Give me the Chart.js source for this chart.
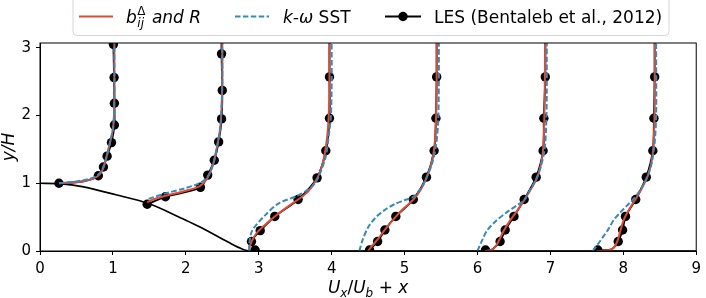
<!DOCTYPE html>
<html>
<head>
<meta charset="utf-8">
<script src="https://cdn.jsdelivr.net/npm/chart.js@4.4.0/dist/chart.umd.min.js"></script>
<style>
  html, body { margin: 0; padding: 0; background: #ffffff; }
  #wrap { width: 706px; height: 298px; position: relative; }
</style>
</head>
<body>
<div id="wrap"><canvas id="c" width="706" height="298"></canvas></div>
<script>
// ---------- data (plotted coordinates: U_x/U_b + x, y/H) ----------
const xTicks = [0, 1, 2, 3, 4, 5, 6, 7, 8, 9];
const yTicks = [0, 1, 2, 3];

// hill geometry (bottom wall)
const hillX = [0, 0.26, 0.58, 1.04, 1.49, 1.95, 2.18, 2.40, 2.60, 2.72, 2.87, 9];
const hillY = [1, 0.995, 0.95, 0.83, 0.70, 0.48, 0.36, 0.236, 0.12, 0.054, 0, 0];

// LES (Bentaleb et al., 2012) - marker points
const les1X = [0.26, 0.80, 0.87, 0.92, 0.98, 1.02, 1.02, 1.016, 1.007];
const les1Y = [1.00, 1.11, 1.24, 1.40, 1.60, 1.86, 2.18, 2.56, 3.05];
const les2X = [1.47, 1.72, 2.20, 2.30, 2.39, 2.45, 2.49, 2.50, 2.49];
const les2Y = [0.69, 0.80, 0.94, 1.12, 1.34, 1.61, 1.95, 2.37, 2.91];
const les3X = [2.95, 2.90, 3.02, 3.22, 3.54, 3.80, 3.92, 3.97, 3.97];
const les3Y = [0.015, 0.14, 0.30, 0.51, 0.76, 1.08, 1.48, 1.96, 2.57];
const les4X = [4.52, 4.63, 4.73, 4.88, 5.12, 5.30, 5.405, 5.43, 5.44];
const les4Y = [0.015, 0.14, 0.31, 0.51, 0.76, 1.09, 1.48, 1.96, 2.57];
const les5X = [6.11, 6.31, 6.38, 6.50, 6.64, 6.805, 6.90, 6.91, 6.93];
const les5Y = [0.015, 0.14, 0.31, 0.51, 0.76, 1.09, 1.48, 1.96, 2.57];
const les6X = [7.65, 7.93, 7.99, 8.03, 8.17, 8.315, 8.405, 8.42, 8.43];
const les6Y = [0.015, 0.14, 0.31, 0.51, 0.76, 1.09, 1.48, 1.96, 2.57];

// LES profile line (full profile, markers shown at the points above)
const lesLine1X = [0.26, 0.45, 0.60, 0.72, 0.80, 0.87, 0.92, 0.98, 1.02, 1.02, 1.016, 1.007, 1.007];
const lesLine1Y = [1.00, 1.01, 1.03, 1.065, 1.11, 1.24, 1.40, 1.60, 1.86, 2.18, 2.56, 3.05, 3.07];
const lesLine2X = [1.47, 1.72, 2.20, 2.30, 2.39, 2.45, 2.49, 2.50, 2.49, 2.49];
const lesLine2Y = [0.69, 0.80, 0.94, 1.12, 1.34, 1.61, 1.95, 2.37, 2.91, 3.07];
const lesLine3X = [2.95, 2.90, 3.02, 3.22, 3.54, 3.80, 3.92, 3.97, 3.97, 3.97];
const lesLine3Y = [0.015, 0.14, 0.30, 0.51, 0.76, 1.08, 1.48, 1.96, 2.57, 3.07];
const lesLine4X = [4.52, 4.63, 4.73, 4.88, 5.12, 5.30, 5.405, 5.43, 5.44, 5.44];
const lesLine4Y = [0.015, 0.14, 0.31, 0.51, 0.76, 1.09, 1.48, 1.96, 2.57, 3.07];
const lesLine5X = [6.11, 6.20, 6.25, 6.31, 6.38, 6.50, 6.64, 6.805, 6.90, 6.91, 6.93, 6.93];
const lesLine5Y = [0.015, 0.02, 0.07, 0.14, 0.31, 0.51, 0.76, 1.09, 1.48, 1.96, 2.57, 3.07];
const lesLine6X = [7.65, 7.80, 7.87, 7.93, 7.99, 8.03, 8.17, 8.315, 8.405, 8.42, 8.43, 8.43];
const lesLine6Y = [0.015, 0.015, 0.05, 0.14, 0.31, 0.51, 0.76, 1.09, 1.48, 1.96, 2.57, 3.07];

// b_ij^Δ and R
const red1X = [0.26, 0.45, 0.60, 0.72, 0.80, 0.86, 0.91, 0.96, 1.00, 1.015, 1.02, 1.02, 1.02];
const red1Y = [1.00, 1.01, 1.03, 1.065, 1.11, 1.20, 1.38, 1.60, 1.80, 2.00, 2.30, 2.60, 3.07];
const red2X = [1.47, 1.55, 1.72, 2.00, 2.185, 2.28, 2.33, 2.38, 2.43, 2.47, 2.49, 2.50, 2.50];
const red2Y = [0.72, 0.76, 0.815, 0.89, 0.955, 1.05, 1.15, 1.30, 1.55, 1.80, 2.10, 2.50, 3.07];
const red3X = [2.87, 2.88, 2.93, 3.00, 3.10, 3.22, 3.38, 3.54, 3.68, 3.79, 3.85, 3.90, 3.94, 3.96, 3.97, 3.97];
const red3Y = [0.00, 0.08, 0.20, 0.30, 0.40, 0.51, 0.64, 0.76, 0.88, 1.05, 1.20, 1.40, 1.70, 2.00, 2.50, 3.07];
const red4X = [4.50, 4.55, 4.63, 4.72, 4.85, 4.98, 5.12, 5.22, 5.30, 5.37, 5.41, 5.43, 5.44, 5.44];
const red4Y = [0.00, 0.07, 0.17, 0.30, 0.47, 0.62, 0.76, 0.90, 1.08, 1.30, 1.55, 1.90, 2.50, 3.07];
const red5X = [6.10, 6.20, 6.25, 6.30, 6.36, 6.46, 6.58, 6.68, 6.77, 6.84, 6.89, 6.91, 6.92, 6.93];
const red5Y = [0.00, 0.02, 0.07, 0.17, 0.30, 0.47, 0.65, 0.82, 0.98, 1.15, 1.40, 1.70, 2.20, 3.07];
const red6X = [7.63, 7.80, 7.87, 7.92, 7.96, 8.01, 8.10, 8.20, 8.28, 8.35, 8.40, 8.42, 8.43, 8.43];
const red6Y = [0.00, 0.01, 0.05, 0.15, 0.30, 0.47, 0.65, 0.82, 0.98, 1.15, 1.40, 1.70, 2.20, 3.07];

// k-ω SST
const blue1X = [0.26, 0.45, 0.60, 0.72, 0.80, 0.86, 0.91, 0.96, 1.00, 1.015, 1.02, 1.02];
const blue1Y = [1.00, 1.02, 1.045, 1.08, 1.13, 1.22, 1.38, 1.60, 1.80, 2.00, 2.30, 3.07];
const blue2X = [1.49, 1.72, 2.00, 2.185, 2.28, 2.33, 2.38, 2.43, 2.47, 2.49, 2.50, 2.50];
const blue2Y = [0.77, 0.85, 0.93, 1.00, 1.07, 1.16, 1.30, 1.55, 1.80, 2.10, 2.50, 3.07];
const blue3X = [2.87, 2.87, 2.91, 3.09, 3.27, 3.54, 3.72, 3.80, 3.86, 3.92, 3.96, 3.99, 4.00, 4.00];
const blue3Y = [0.00, 0.10, 0.30, 0.53, 0.70, 0.82, 0.94, 1.05, 1.20, 1.40, 1.70, 2.00, 2.50, 3.07];
const blue4X = [4.38, 4.42, 4.50, 4.60, 4.72, 4.86, 5.00, 5.12, 5.22, 5.30, 5.38, 5.43, 5.46, 5.47, 5.47];
const blue4Y = [0.00, 0.15, 0.35, 0.49, 0.60, 0.69, 0.75, 0.80, 0.92, 1.08, 1.30, 1.55, 1.90, 2.50, 3.07];
const blue5X = [6.00, 6.06, 6.13, 6.25, 6.40, 6.55, 6.64, 6.72, 6.80, 6.87, 6.92, 6.94, 6.95, 6.95];
const blue5Y = [0.00, 0.15, 0.30, 0.44, 0.57, 0.68, 0.75, 0.90, 1.05, 1.25, 1.50, 1.80, 2.30, 3.07];
const blue6X = [7.58, 7.65, 7.73, 7.80, 7.87, 7.96, 8.05, 8.15, 8.25, 8.33, 8.39, 8.43, 8.45, 8.45];
const blue6Y = [0.00, 0.10, 0.22, 0.33, 0.46, 0.57, 0.67, 0.78, 0.93, 1.10, 1.30, 1.60, 2.00, 3.07];

// ---------- build datasets ----------
const RED = '#E24A33', BLUE = '#348ABD', BLACK = '#000000';
const pts = (xs, ys) => xs.map((x, i) => ({ x: x, y: ys[i] }));

const datasets = [];
datasets.push({ data: pts(hillX, hillY), borderColor: BLACK, borderWidth: 1.7, pointRadius: 0, tension: 0.3, clip: false, order: 6 });
[[lesLine1X, lesLine1Y], [lesLine2X, lesLine2Y], [lesLine3X, lesLine3Y], [lesLine4X, lesLine4Y], [lesLine5X, lesLine5Y], [lesLine6X, lesLine6Y]].forEach(([xs, ys]) => {
  datasets.push({ data: pts(xs, ys), borderColor: BLACK, borderWidth: 1.9, pointRadius: 0, tension: 0.3, order: 5 });
});
[[les1X, les1Y], [les2X, les2Y], [les3X, les3Y], [les4X, les4Y], [les5X, les5Y], [les6X, les6Y]].forEach(([xs, ys]) => {
  datasets.push({ data: pts(xs, ys), showLine: false, borderColor: BLACK, backgroundColor: BLACK,
    pointRadius: 4.7, pointBorderWidth: 0, pointBackgroundColor: BLACK, order: 4 });
});
[[red1X, red1Y], [red2X, red2Y], [red3X, red3Y], [red4X, red4Y], [red5X, red5Y], [red6X, red6Y]].forEach(([xs, ys]) => {
  datasets.push({ data: pts(xs, ys), borderColor: RED, borderWidth: 2, pointRadius: 0, tension: 0.3, order: 3 });
});
[[blue1X, blue1Y], [blue2X, blue2Y], [blue3X, blue3Y], [blue4X, blue4Y], [blue5X, blue5Y], [blue6X, blue6Y]].forEach(([xs, ys]) => {
  datasets.push({ data: pts(xs, ys), borderColor: BLUE, borderWidth: 2, borderDash: [5.5, 2.4], pointRadius: 0, tension: 0.3, order: 2 });
});

const FONT = 'DejaVu Sans';

// ---------- plugin: frame, legend, axis titles ----------
const decor = {
  id: 'decor',
  afterDraw(chart) {
    const ctx = chart.ctx;
    const a = chart.chartArea;
    ctx.save();
    // frame
    ctx.strokeStyle = '#000';
    ctx.lineWidth = 1;
    ctx.strokeRect(a.left, a.top, a.right - a.left, a.bottom - a.top);

    // legend box
    const bx = 73, by = -8, bw = 596, bh = 43.5, r = 4;
    ctx.beginPath();
    ctx.moveTo(bx + r, by);
    ctx.lineTo(bx + bw - r, by);
    ctx.quadraticCurveTo(bx + bw, by, bx + bw, by + r);
    ctx.lineTo(bx + bw, by + bh - r);
    ctx.quadraticCurveTo(bx + bw, by + bh, bx + bw - r, by + bh);
    ctx.lineTo(bx + r, by + bh);
    ctx.quadraticCurveTo(bx, by + bh, bx, by + bh - r);
    ctx.lineTo(bx, by + r);
    ctx.quadraticCurveTo(bx, by, bx + r, by);
    ctx.closePath();
    ctx.fillStyle = 'rgba(255,255,255,0.8)';
    ctx.fill();
    ctx.strokeStyle = '#d6d6d6';
    ctx.lineWidth = 1;
    ctx.stroke();

    const ly = 16.5, base = 22.5;
    // red sample
    ctx.strokeStyle = RED; ctx.lineWidth = 2; ctx.setLineDash([]);
    ctx.beginPath(); ctx.moveTo(79, ly); ctx.lineTo(113, ly); ctx.stroke();
    // blue sample
    ctx.strokeStyle = BLUE; ctx.setLineDash([5.5, 2.4]);
    ctx.beginPath(); ctx.moveTo(235, ly); ctx.lineTo(269, ly); ctx.stroke();
    ctx.setLineDash([]);
    // black sample
    ctx.strokeStyle = BLACK; ctx.lineWidth = 1.9;
    ctx.beginPath(); ctx.moveTo(385, ly); ctx.lineTo(421, ly); ctx.stroke();
    ctx.fillStyle = BLACK;
    ctx.beginPath(); ctx.arc(403, ly, 4.7, 0, Math.PI * 2); ctx.fill();

    ctx.fillStyle = '#000';
    ctx.textBaseline = 'alphabetic';
    ctx.textAlign = 'left';
    // b_ij^Δ and R
    let x = 126;
    ctx.font = 'italic 17px "' + FONT + '"';
    ctx.fillText('b', x, base);
    x += ctx.measureText('b').width + 0.5;
    ctx.font = 'italic 12px "' + FONT + '"';
    ctx.fillText('ij', x, base + 4);
    const wij = ctx.measureText('ij').width;
    ctx.font = '12px "' + FONT + '"';
    ctx.fillText('\u0394', x, base - 8);
    const wd = ctx.measureText('\u0394').width;
    x += Math.max(wij, wd) + 1;
    ctx.font = 'italic 17px "' + FONT + '"';
    ctx.fillText(' and R', x, base);
    // k-ω SST
    x = 283;
    ctx.font = 'italic 17px "' + FONT + '"';
    ctx.fillText('k-\u03C9', x, base);
    x += ctx.measureText('k-\u03C9').width;
    ctx.font = '17px "' + FONT + '"';
    ctx.fillText(' SST', x, base);
    // LES
    ctx.fillText('LES (Bentaleb et al., 2012)', 434, base);

    // x-axis title: U_x/U_b + x
    const parts = [
      ['U', 'italic 17px', 0], ['x', 'italic 12px', 4], ['/', '17px', 0], ['U', 'italic 17px', 0],
      ['b', 'italic 12px', 4], [' + ', '17px', 0], ['x', 'italic 17px', 0]
    ];
    let tw = 0;
    parts.forEach(p => { ctx.font = p[1] + ' "' + FONT + '"'; tw += ctx.measureText(p[0]).width; });
    x = (a.left + a.right) / 2 - tw / 2;
    const tb = 293;
    parts.forEach(p => { ctx.font = p[1] + ' "' + FONT + '"'; ctx.fillText(p[0], x, tb + p[2]); x += ctx.measureText(p[0]).width; });

    // y-axis title: y/H
    ctx.translate(13.5, (a.top + a.bottom) / 2);
    ctx.rotate(-Math.PI / 2);
    ctx.font = 'italic 17px "' + FONT + '"';
    ctx.textAlign = 'center';
    ctx.fillText('y/H', 0, 0);
    ctx.restore();
  }
};

const onlyTicks = (vals) => function (scale) { scale.ticks = vals.map(v => ({ value: v })); };

new Chart(document.getElementById('c'), {
  type: 'line',
  data: { datasets: datasets },
  options: {
    responsive: false,
    animation: false,
    devicePixelRatio: 1,
    layout: { padding: { top: 43, right: 6, left: 0, bottom: 0 } },
    plugins: { legend: { display: false }, tooltip: { enabled: false } },
    scales: {
      x: {
        type: 'linear', min: 0, max: 9,
        afterBuildTicks: onlyTicks(xTicks),
        afterFit(s) { s.height = 47; },
        grid: { drawOnChartArea: false, drawTicks: true, tickLength: 4, color: '#000', tickWidth: 1 },
        border: { display: true, color: '#000', width: 1 },
        ticks: { color: '#000', font: { family: FONT, size: 15 }, padding: 5, maxRotation: 0, autoSkip: false,
          callback: v => String(v) }
      },
      y: {
        type: 'linear', min: 0, max: 3.07,
        afterBuildTicks: onlyTicks(yTicks),
        afterFit(s) { s.width = 40; },
        grid: { drawOnChartArea: false, drawTicks: true, tickLength: 4, color: '#000', tickWidth: 1 },
        border: { display: true, color: '#000', width: 1 },
        ticks: { color: '#000', font: { family: FONT, size: 15 }, padding: 5, autoSkip: false,
          callback: v => String(v) }
      }
    }
  },
  plugins: [decor]
});
</script>
</body>
</html>
